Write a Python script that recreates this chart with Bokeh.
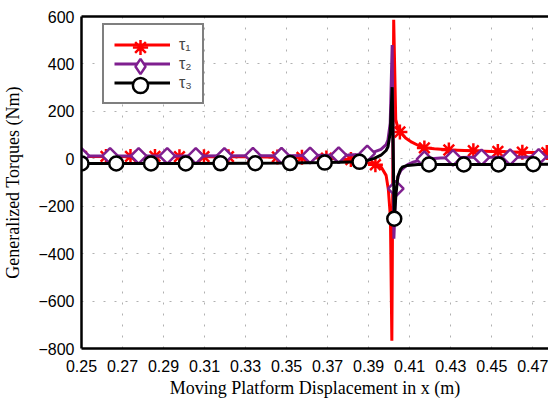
import math
from bokeh.plotting import figure
from bokeh.models import (FixedTicker, PrintfTickFormatter, LinearAxis, Legend, LegendItem,
                          Range1d)
from bokeh.embed import file_html
from bokeh.resources import INLINE

# ---------------- data ----------------
x_ticks = [0.25, 0.27, 0.29, 0.31, 0.33, 0.35, 0.37, 0.39, 0.41, 0.43, 0.45, 0.47]
y_ticks = [-800, -600, -400, -200, 0, 200, 400, 600]

# tau1 (red) line
tau1_x = [0.25, 0.30, 0.34, 0.36, 0.37, 0.38, 0.385, 0.389, 0.3933, 0.3961, 0.3985,
          0.3996, 0.4006, 0.4013, 0.4022, 0.4032, 0.4041, 0.4050, 0.4061, 0.408,
          0.411, 0.414, 0.4175, 0.422, 0.43, 0.44, 0.45, 0.46, 0.47, 0.478]
tau1_y = [10, 9, 8, 5, 2, -3, -8, -14, -25, -35, -70,
          -130, -246, -767, 586, 165, 135, 120, 107, 88,
          70, 57, 46, 42, 37, 34, 31, 29, 27, 26]
# tau1 markers
tau1_mx = [0.25, 0.26194, 0.27388, 0.28582, 0.29776, 0.3097, 0.32164, 0.33358, 0.34552,
           0.35746, 0.3694, 0.38134, 0.39328, 0.40522, 0.41716, 0.4291, 0.44104, 0.45298,
           0.46492, 0.47686]
tau1_my = [10, 10, 10, 10, 9, 9, 9, 8, 8,
           6, 3, -3, -25, 113, 46, 37, 34, 31,
           28, 26]

# tau2 (purple) line
tau2_x = [0.25, 0.30, 0.35, 0.38, 0.3854, 0.389, 0.3927, 0.396, 0.3985, 0.3994, 0.4005,
          0.40146, 0.40228, 0.4032, 0.4045, 0.4058, 0.409, 0.412, 0.4172, 0.425, 0.44,
          0.46, 0.478]
tau2_y = [12, 12, 13, 16, 18, 23, 29, 40, 60, 79, 150,
          480, -337, -126, -70, -48, -25, -13, -2, 3, 6,
          7, 8]
# tau2 markers
tau2_mx = [0.25, 0.26393, 0.27786, 0.29179, 0.30572, 0.31965, 0.33358, 0.34751, 0.36144,
           0.37537, 0.3893, 0.40323, 0.41716, 0.43109, 0.44502, 0.45895, 0.47288]
tau2_my = [12, 12, 12, 12, 12, 12, 13, 13, 14,
           15, 23, -126, -2, 4, 6, 7, 8]

# tau3 (black) line
tau3_x = [0.25, 0.30, 0.35, 0.37, 0.3855, 0.389, 0.3927, 0.396, 0.3985, 0.3994, 0.4005,
          0.40146, 0.40248, 0.4033, 0.4042, 0.4055, 0.4066, 0.409, 0.414, 0.43, 0.45, 0.478]
tau3_y = [-20, -20, -18, -16, -13, -8, 2, 15, 35, 50, 110,
          302, -253, -150, -76, -45, -34, -28, -24, -24, -24, -23]
# tau3 markers
tau3_mx = [0.25, 0.26694, 0.28388, 0.30083, 0.31777, 0.33471, 0.35165, 0.36859, 0.38554,
           0.40248, 0.41942, 0.43636, 0.4533, 0.47024]
tau3_my = [-20, -20, -20, -20, -19, -19, -18, -16, -13,
           -253, -24, -24, -24, -23]

series_labels = ["τ₁", "τ₂", "τ₃"]

# ---------------- figure ----------------
p = figure(width=548, height=401, x_range=(0.25, 0.47767), y_range=(-800, 600),
           output_backend="svg", toolbar_location=None,
           min_border_left=79, min_border_right=0, min_border_top=16, min_border_bottom=53)
p.outline_line_color = None
p.background_fill_color = "white"
p.border_fill_color = "white"
# auxiliary range used only for the legend key glyph (maps it outside the frame)
p.extra_y_ranges = {"legend_key": Range1d(start=1000, end=2000)}

tick_font = "Liberation Sans"
label_font = "Liberation Serif"

for ax in [p.xaxis[0], p.yaxis[0]]:
    ax.axis_line_width = 2.5
    ax.axis_line_color = "black"
    ax.major_tick_line_color = None
    ax.minor_tick_line_color = None
    ax.major_tick_out = 0
    ax.major_tick_in = 0
    ax.minor_tick_out = 0
    ax.minor_tick_in = 0
    ax.major_label_text_font = tick_font
    ax.major_label_text_font_size = "16px"
    ax.major_label_text_color = "black"
    ax.axis_label_text_font = label_font
    ax.axis_label_text_font_style = "normal"
    ax.axis_label_text_font_size = "18px"
    ax.axis_label_text_color = "black"

p.xaxis[0].ticker = FixedTicker(ticks=x_ticks)
p.xaxis[0].formatter = PrintfTickFormatter(format="%.2f")
p.xaxis[0].major_label_standoff = 11
p.xaxis[0].axis_label = "Moving Platform Displacement in x (m)"
p.xaxis[0].axis_label_standoff = 3

p.yaxis[0].ticker = FixedTicker(ticks=y_ticks)
p.yaxis[0].major_label_standoff = 7
p.yaxis[0].axis_label = "Generalized Torques (Nm)"
p.yaxis[0].axis_label_standoff = 12

top_axis = LinearAxis(ticker=FixedTicker(ticks=[]), axis_line_width=2.5, axis_line_color="black",
                      major_tick_line_color=None, minor_tick_line_color=None,
                      major_tick_out=0, major_tick_in=0, minor_tick_out=0, minor_tick_in=0,
                      major_label_text_font_size="0px")
p.add_layout(top_axis, "above")

for g in [p.xgrid[0], p.ygrid[0]]:
    g.grid_line_color = "#b0b0b0"
    g.grid_line_dash = "2 9"
    g.grid_line_width = 1

lw = 3
purple = "#7f1f8f"
r1l = p.line(tau1_x, tau1_y, line_color="red", line_width=lw)
r1m = p.scatter(tau1_mx, tau1_my, marker="asterisk", size=15, line_color="red", line_width=2.5)
r2l = p.line(tau2_x, tau2_y, line_color=purple, line_width=lw)
r2m = p.scatter(tau2_mx, tau2_my, marker="square", angle=math.pi / 4, size=11, line_color=purple,
                fill_color="white", line_width=2.5)
r3l = p.line(tau3_x, tau3_y, line_color="black", line_width=lw)
r3m = p.scatter(tau3_mx, tau3_my, marker="circle", size=14, line_color="black",
                fill_color="white", line_width=2.5)
# legend-only sample glyph for the diamond (legend samples are drawn unrotated);
# it is placed on the auxiliary range, so it falls outside the visible frame
r2key = p.scatter(tau2_mx[:1], tau2_my[:1], y_range_name="legend_key",
                  marker="diamond", size=15, line_color=purple,
                  fill_color="white", line_width=2.5)

# legend box with lines and labels
legend = Legend(items=[LegendItem(label=series_labels[0], renderers=[r1l]),
                       LegendItem(label=series_labels[1], renderers=[r2l]),
                       LegendItem(label=series_labels[2], renderers=[r3l])],
                location=(21, 244), border_line_color="black", border_line_width=2,
                padding=10, spacing=0, glyph_width=56, glyph_height=19, label_height=19,
                label_width=10, label_standoff=9, label_text_font=tick_font,
                label_text_font_size="16px", margin=0, background_fill_alpha=1.0)
p.add_layout(legend)

# transparent single-item legends carrying full-size markers on top of the legend lines
for rend, ybot in [(r1m, 282), (r2key, 263), (r3m, 244)]:
    lm = Legend(items=[LegendItem(label=" ", renderers=[rend])],
                location=(31, ybot), border_line_color=None, background_fill_alpha=0.0,
                padding=0, spacing=0, glyph_width=56, glyph_height=38, label_height=38,
                label_width=0, label_standoff=0, label_text_font_size="1px", margin=0)
    p.add_layout(lm)

open("out.html", "w").write(file_html(p, INLINE))
